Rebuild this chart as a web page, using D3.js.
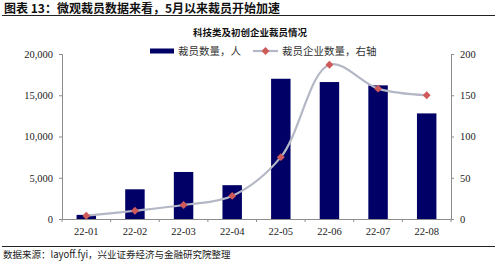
<!DOCTYPE html>
<html>
<head>
<meta charset="utf-8">
<script src="https://cdn.jsdelivr.net/npm/d3@7"></script>
<style>
  body { margin: 0; background: #fff; }
  svg { display: block; }
  .num { font-family: "Liberation Serif", "Times New Roman", serif; }
</style>
</head>
<body>
<div id="chart"></div>
<script>
var months = ["22-01", "22-02", "22-03", "22-04", "22-05", "22-06", "22-07", "22-08"];
var layoffs = [500, 3600, 5700, 4100, 17000, 16600, 16200, 12800];
var companies = [4, 10, 17, 28, 75, 187, 158, 150];
var leftTicks = [0, 5000, 10000, 15000, 20000];
var rightTicks = [0, 50, 100, 150, 200];

var svgWidth = 500;
var svgHeight = 264;

var margin = { top: 54, right: 49, bottom: 45, left: 62 };
var width = svgWidth - margin.left - margin.right;
var height = svgHeight - margin.top - margin.bottom;

var barColor = "#000066";
var lineColor = "#b4b8c6";
var markerColor = "#cf5a5a";
var axisColor = "#8c8c8c";
var cjk = "'Noto Sans CJK SC', sans-serif";

var svg = d3.select("#chart")
  .append("svg")
  .attr("width", svgWidth)
  .attr("height", svgHeight);

// header with underline
svg.append("text")
  .attr("x", 4)
  .attr("y", 13)
  .attr("font-family", cjk)
  .attr("font-weight", "bold")
  .attr("font-size", 12)
  .attr("fill", "#111")
  .text("图表 13：微观裁员数据来看，5月以来裁员开始加速");

svg.append("line")
  .attr("x1", 2).attr("x2", 495)
  .attr("y1", 15.5).attr("y2", 15.5)
  .attr("stroke", "#222")
  .attr("stroke-width", 1);

// chart title
svg.append("text")
  .attr("x", 250)
  .attr("y", 36)
  .attr("text-anchor", "middle")
  .attr("font-family", cjk)
  .attr("font-weight", "bold")
  .attr("font-size", 9.5)
  .attr("fill", "#111")
  .text("科技类及初创企业裁员情况");

var chartGroup = svg.append("g")
  .attr("transform", `translate(${margin.left}, ${margin.top})`);

// scales
var xScale = d3.scaleBand()
  .domain(months)
  .range([0, width])
  .paddingInner(0.6)
  .paddingOuter(0.3);

var yLeft = d3.scaleLinear()
  .domain([0, 20000])
  .range([height, 0]);

var yRight = d3.scaleLinear()
  .domain([0, 200])
  .range([height, 0]);

// axes
var leftAxis = d3.axisLeft(yLeft)
  .tickValues(leftTicks)
  .tickFormat(d3.format(","))
  .tickSize(3)
  .tickPadding(6);

var rightAxis = d3.axisRight(yRight)
  .tickValues(rightTicks)
  .tickSize(3)
  .tickPadding(6);

var gl = chartGroup.append("g").call(leftAxis);
var gr = chartGroup.append("g")
  .attr("transform", `translate(${width}, 0)`)
  .call(rightAxis);

[gl, gr].forEach(function(g) {
  g.attr("font-family", null);
  g.select(".domain").attr("stroke", axisColor);
  g.selectAll(".tick line").attr("stroke", axisColor);
  g.selectAll(".tick text")
    .attr("class", "num")
    .attr("font-size", 10.5)
    .attr("fill", "#222");
});

// bars
chartGroup.selectAll("rect.bar")
  .data(layoffs)
  .enter()
  .append("rect")
  .attr("class", "bar")
  .attr("x", (d, i) => xScale(months[i]))
  .attr("width", xScale.bandwidth())
  .attr("y", d => yLeft(d))
  .attr("height", d => height - yLeft(d))
  .attr("fill", barColor);

// x axis with ticks at category boundaries
var step = width / months.length;
chartGroup.append("line")
  .attr("x1", 0).attr("x2", width)
  .attr("y1", height + 0.5).attr("y2", height + 0.5)
  .attr("stroke", axisColor);

chartGroup.selectAll("line.xtick")
  .data(d3.range(months.length + 1))
  .enter()
  .append("line")
  .attr("class", "xtick")
  .attr("x1", i => i * step).attr("x2", i => i * step)
  .attr("y1", height).attr("y2", height + 3)
  .attr("stroke", axisColor);

chartGroup.selectAll("text.xlabel")
  .data(months)
  .enter()
  .append("text")
  .attr("class", "xlabel num")
  .attr("x", d => xScale(d) + xScale.bandwidth() / 2)
  .attr("y", height + 16)
  .attr("text-anchor", "middle")
  .attr("font-size", 10.5)
  .attr("fill", "#222")
  .text(d => d);

// smoothed line on right axis
var line = d3.line()
  .x((d, i) => xScale(months[i]) + xScale.bandwidth() / 2)
  .y(d => yRight(d))
  .curve(d3.curveCatmullRom.alpha(0.5));

chartGroup.append("path")
  .datum(companies)
  .attr("d", line)
  .attr("fill", "none")
  .attr("stroke", lineColor)
  .attr("stroke-width", 2.2);

var diamond = d3.symbol().type(d3.symbolDiamond2).size(40);

chartGroup.selectAll("path.marker")
  .data(companies)
  .enter()
  .append("path")
  .attr("class", "marker")
  .attr("d", diamond)
  .attr("transform", (d, i) => `translate(${xScale(months[i]) + xScale.bandwidth() / 2}, ${yRight(d)})`)
  .attr("fill", markerColor);

// legend
var legend = svg.append("g");
legend.append("rect")
  .attr("x", 150).attr("y", 48.5)
  .attr("width", 24).attr("height", 5)
  .attr("fill", barColor);
legend.append("text")
  .attr("x", 178).attr("y", 55)
  .attr("font-family", cjk)
  .attr("font-size", 10.5)
  .attr("fill", "#333")
  .text("裁员数量，人");

legend.append("line")
  .attr("x1", 253).attr("x2", 278)
  .attr("y1", 51).attr("y2", 51)
  .attr("stroke", lineColor)
  .attr("stroke-width", 2.2);
legend.append("path")
  .attr("d", diamond)
  .attr("transform", "translate(265.5, 51)")
  .attr("fill", markerColor);
legend.append("text")
  .attr("x", 282).attr("y", 55)
  .attr("font-family", cjk)
  .attr("font-size", 10.5)
  .attr("fill", "#333")
  .text("裁员企业数量，右轴");

// source footer
svg.append("line")
  .attr("x1", 2).attr("x2", 495)
  .attr("y1", 246.5).attr("y2", 246.5)
  .attr("stroke", "#222");

svg.append("text")
  .attr("x", 3)
  .attr("y", 258)
  .attr("font-family", cjk)
  .attr("font-size", 9.5)
  .attr("fill", "#222")
  .text("数据来源：layoff.fyi，兴业证券经济与金融研究院整理");
</script>
</body>
</html>
